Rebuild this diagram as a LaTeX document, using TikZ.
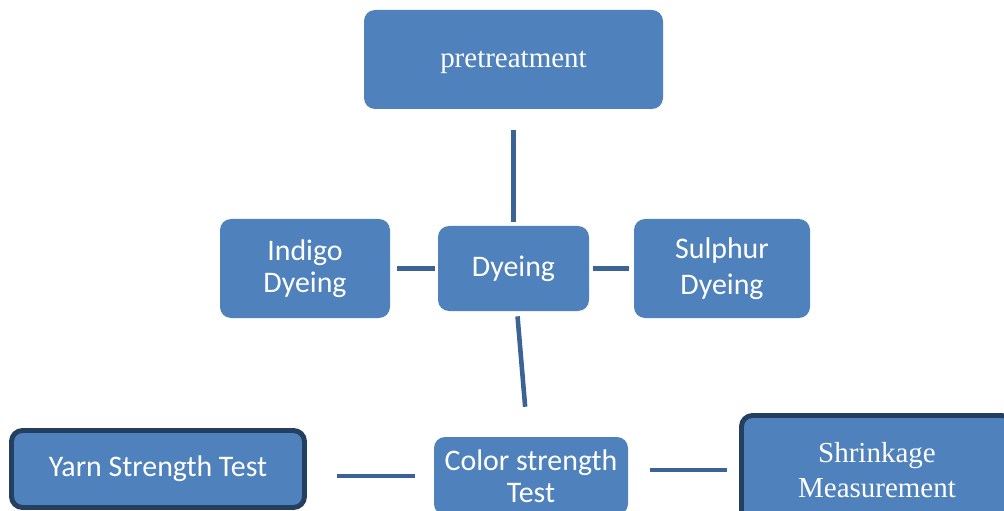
\documentclass[tikz,border=0pt]{standalone}
\usepackage{fontspec}
\setmainfont{Liberation Serif}
\newfontfamily\calibri{Carlito}
\usetikzlibrary{positioning}
\definecolor{BoxBlue}{HTML}{4F81BD}
\definecolor{LinkBlue}{HTML}{3C6396}
\definecolor{EdgeNavy}{HTML}{243F60}

\begin{document}
\begin{tikzpicture}[
    box/.style={fill=BoxBlue,rounded corners=0.22cm,text=white,align=center,inner sep=2pt,font=\calibri\fontsize{17}{18.5}\selectfont},
    serifbox/.style={box,font=\fontsize{16.5}{19.5}\selectfont},
    framed/.style={draw=EdgeNavy,line width=2.8pt},
    link/.style={draw=LinkBlue,line width=2.6pt}
  ]
    \path[use as bounding box,clip] (0,0) rectangle (20.08,-10.22);

    \node[serifbox,text depth=0pt,minimum width=5.98cm,minimum height=1.98cm] (pre) at (10.27,-1.19) {pretreatment};
    \node[box,minimum width=3.02cm,minimum height=1.70cm] (dye) at (10.27,-5.37) {Dyeing};
    \node[box,minimum width=3.40cm,minimum height=1.98cm] (indigo) at (6.10,-5.37) {Indigo\\Dyeing};
    \node[box,minimum width=3.52cm,minimum height=1.98cm] (sulphur) at (14.44,-5.37) {Sulphur\\[2pt]Dyeing};

    \node[box,framed,minimum width=5.86cm,minimum height=1.54cm] (yarn) at (3.16,-9.38) {Yarn Strength Test};
    \node[box,minimum width=3.88cm,minimum height=1.56cm] (color) at (10.62,-9.52) {Color strength\\Test};
    \node[serifbox,framed,minimum width=5.42cm,minimum height=2.18cm] (shrink) at (17.54,-9.40) {Shrinkage\\Measurement};

    \draw[link,shorten <=0.42cm,shorten >=0.08cm] (pre) -- (dye);
    \draw[link,shorten <=0.14cm,shorten >=0.06cm] (indigo) -- (dye);
    \draw[link,shorten <=0.08cm,shorten >=0.10cm] (dye) -- (sulphur);
    \draw[link,shorten <=0.10cm,shorten >=0.60cm] (dye) -- (color);
    \draw[link,shorten <=0.60cm,shorten >=0.38cm] (yarn.east |- color.west) -- (color.west);
    \draw[link,shorten <=0.44cm,shorten >=0.24cm] (color.east |- shrink.west) -- (shrink.west);
  \end{tikzpicture}
\end{document}
